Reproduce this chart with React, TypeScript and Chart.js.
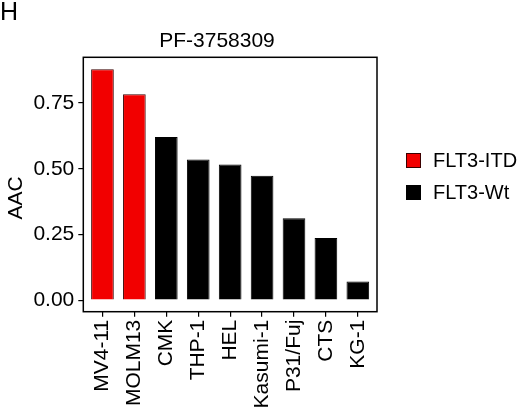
import { useEffect, useRef } from "react"
import { Chart, registerables } from "chart.js"

Chart.register(...registerables)

// values
const cellLines = ["MV4-11", "MOLM13", "CMK", "THP-1", "HEL", "Kasumi-1", "P31/Fuj", "CTS", "KG-1"]
const aacValues = [0.879, 0.783, 0.621, 0.535, 0.516, 0.473, 0.312, 0.236, 0.071]
const flt3Status = ["FLT3-ITD", "FLT3-ITD", "FLT3-Wt", "FLT3-Wt", "FLT3-Wt", "FLT3-Wt", "FLT3-Wt", "FLT3-Wt", "FLT3-Wt"]
const statusNames = ["FLT3-ITD", "FLT3-Wt"]
const statusColors = ["#f20000", "#000000"]
const statusBorders = ["#3a0000", "#000000"]
const yTicks = [0, 0.25, 0.5, 0.75]

const FONT = "'Liberation Sans', Arial, Helvetica, sans-serif"

// ggplot-style full panel border
const panelBorder = {
  id: "panelBorder",
  afterDraw(chart: Chart) {
    const { ctx, chartArea: a } = chart
    ctx.save()
    ctx.strokeStyle = "#000"
    ctx.lineWidth = 1.5
    ctx.strokeRect(a.left, a.top, a.right - a.left, a.bottom - a.top)
    ctx.restore()
  },
}

function AacChart() {
  const chartRef = useRef<HTMLCanvasElement>(null)
  const chartInstance = useRef<Chart | null>(null)

  useEffect(() => {
    if (!chartRef.current) return
    if (chartInstance.current) chartInstance.current.destroy()

    const colorOf = (s: string) => statusColors[statusNames.indexOf(s)]
    const borderOf = (s: string) => statusBorders[statusNames.indexOf(s)]

    const ctx = chartRef.current.getContext("2d")
    if (!ctx) return

    chartInstance.current = new Chart(ctx, {
      type: "bar",
      data: {
        datasets: [
          {
            label: "AAC",
            data: aacValues.map((v, i) => ({ x: i, y: v })),
            backgroundColor: flt3Status.map(colorOf),
            borderColor: flt3Status.map(borderOf),
            borderWidth: 1,
            barPercentage: 0.71,
            categoryPercentage: 1,
          },
        ],
      },
      options: {
        animation: false,
        responsive: true,
        maintainAspectRatio: false,
        layout: { padding: { left: 0, right: 57, top: 57.3, bottom: 0 } },
        scales: {
          x: {
            type: "linear",
            offset: false,
            min: -0.6,
            max: 8.6,
            afterBuildTicks: (scale) => {
              scale.ticks = cellLines.map((_, i) => ({ value: i }))
            },
            afterFit: (scale) => {
              scale.height = 97.3
            },
            ticks: {
              autoSkip: false,
              minRotation: 90,
              maxRotation: 90,
              padding: 3,
              color: "#000",
              font: { family: FONT, size: 21 },
              callback: (value) => cellLines[Number(value)] ?? "",
            },
            grid: {
              display: true,
              offset: false,
              drawOnChartArea: false,
              drawTicks: true,
              tickLength: 5,
              color: "#000",
              lineWidth: 1.2,
            },
            border: { display: false },
          },
          y: {
            min: -0.044,
            max: 0.924,
            afterBuildTicks: (scale) => {
              scale.ticks = yTicks.map((v) => ({ value: v }))
            },
            afterFit: (scale) => {
              scale.width = 83.3
            },
            ticks: {
              padding: 4,
              color: "#000",
              font: { family: FONT, size: 21 },
              callback: (value) => Number(value).toFixed(2),
            },
            grid: {
              display: true,
              drawOnChartArea: false,
              drawTicks: true,
              tickLength: 5,
              color: "#000",
              lineWidth: 1.2,
            },
            border: { display: false },
          },
        },
        plugins: {
          legend: { display: false },
          tooltip: { enabled: false },
          title: { display: false },
        },
      },
      plugins: [panelBorder],
    })

    return () => {
      if (chartInstance.current) {
        chartInstance.current.destroy()
        chartInstance.current = null
      }
    }
  }, [])

  return <canvas ref={chartRef} />
}

export default function App() {
  return (
    <div
      style={{
        position: "absolute",
        left: 0,
        top: 0,
        width: 525,
        height: 409,
        background: "#fff",
        fontFamily: FONT,
        color: "#000",
        overflow: "hidden",
      }}
    >
      <div style={{ position: "absolute", left: 0, top: 0, width: 434, height: 409 }}>
        <AacChart />
      </div>
      <div style={{ position: "absolute", left: 0, top: -1, fontSize: 25, lineHeight: "25px" }}>H</div>
      <div
        style={{
          position: "absolute",
          left: 217,
          top: 38.5,
          fontSize: 21,
          lineHeight: "21px",
          whiteSpace: "nowrap",
          transform: "translate(-50%, -50%)",
        }}
      >
        PF-3758309
      </div>
      <div
        style={{
          position: "absolute",
          left: 14,
          top: 197.5,
          fontSize: 21,
          lineHeight: "21px",
          whiteSpace: "nowrap",
          transform: "translate(-50%, -50%) rotate(-90deg)",
        }}
      >
        AAC
      </div>
      {statusNames.map((name, i) => (
        <div
          key={name}
          style={{
            position: "absolute",
            left: 406,
            top: 153 + i * 32,
            height: 15,
            display: "flex",
            alignItems: "center",
            gap: 12,
          }}
        >
          <span
            style={{
              width: 13,
              height: 13,
              background: statusColors[i],
              border: `1px solid ${statusBorders[i]}`,
              display: "inline-block",
            }}
          />
          <span style={{ fontSize: 20, lineHeight: "15px", whiteSpace: "nowrap" }}>{name}</span>
        </div>
      ))}
    </div>
  )
}
